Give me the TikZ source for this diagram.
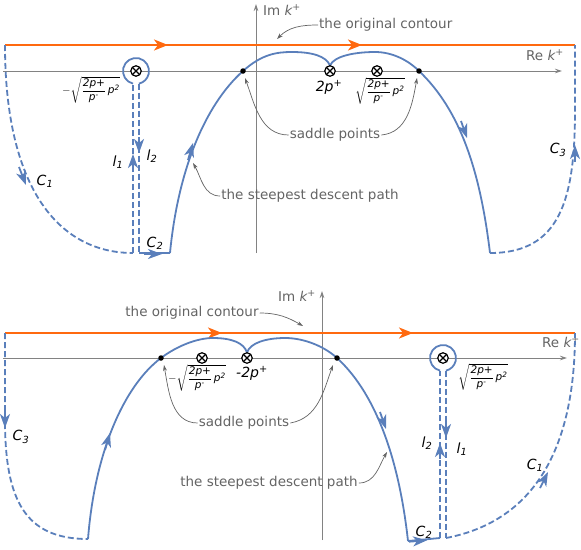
\documentclass[tikz,border=0pt]{standalone}
\usepackage{amsmath}
\usepackage{fontspec}
\setmainfont{DejaVu Sans}
\usetikzlibrary{arrows.meta}
\definecolor{cblue}{RGB}{90,127,187}
\definecolor{corange}{RGB}{255,105,15}
\definecolor{tgray}{RGB}{100,100,100}
\definecolor{agray}{RGB}{130,130,130}
\newcommand\sqbody{\sqrt{\dfrac{\text{\itshape 2p+}}{\text{\itshape p\textsuperscript{-}}}\,\text{\itshape p}^{\text{\itshape 2}}}}
\tikzset{
  blueline/.style={cblue, line width=1.8pt},
  bluedash/.style={blueline, dash pattern=on 6pt off 3pt},
  orline/.style={corange, line width=2.2pt},
  axisline/.style={agray, line width=0.8pt, -{Stealth[length=7pt,width=4.5pt]}},
  ann/.style={tgray, line width=0.7pt, -{Stealth[length=6pt,width=4pt]}},
  annot/.style={text=tgray, font=\fontsize{13.5}{16}\selectfont, inner sep=1pt},
  lbl/.style={font=\fontsize{14}{16}\selectfont\itshape, inner sep=0pt},
  mlbl/.style={font=\fontsize{10.5}{12}\selectfont, inner sep=0pt},
  barr/.style={cblue, line width=1.8pt, -{Stealth[length=14pt,width=10pt,inset=4pt]}},
  oarr/.style={corange, line width=2.2pt, -{Stealth[length=14pt,width=11pt,inset=4pt]}},
  otim/.style={circle, draw=black, line width=1.2pt, fill=white, minimum size=10.5pt, inner sep=0pt,
    path picture={\draw[line width=1.1pt] (path picture bounding box.north west)--(path picture bounding box.south east)
      (path picture bounding box.north east)--(path picture bounding box.south west);}},
  sdot/.style={circle, fill=black, inner sep=0pt, minimum size=5.5pt}
}
\begin{document}
\begin{tikzpicture}[x=1pt,y=-1pt]
\useasboundingbox (0,0) rectangle (581,549);
% ================= TOP PANEL =================
\draw[axisline] (3,71) -- (562,71);
\draw[axisline] (256,253) -- (256,4);
\node[annot, anchor=west] (imT) at (262,10) {Im {\itshape k}\textsuperscript{+}};
\node[annot] (reT) at (545,55) {Re {\itshape k}\textsuperscript{+}};
% original contour
\draw[orline] (5,45) -- (575,45);
\draw[oarr] (152,45) -- (168,45);
\draw[oarr] (346,45) -- (362,45);
% C1
\draw[bluedash] (5,45) .. controls (5,190) and (60,253) .. (133,253);
% keyhole
\draw[bluedash] (133,253) -- (133,83.65);
\draw[blueline] (133,83.65) arc[start angle=256.7, end angle=-76.7, radius=13pt];
\draw[bluedash] (139,83.65) -- (139,253);
% C2
\draw[blueline] (139,253) -- (170,253);
% steepest descent path
\draw[blueline] (170,253) .. controls (178,170) and (205,105) .. (243,71)
  .. controls (262,54) and (277,52) .. (292,52)
  .. controls (312,52) and (326,56) .. (330,65.5)
  .. controls (334,56) and (355,52) .. (375,52)
  .. controls (392,52) and (408,60) .. (419,71)
  .. controls (460,110) and (480,170) .. (490,253);
% C3
\draw[bluedash] (490,253) .. controls (560,253) and (575,200) .. (575,110) -- (575,45);
% arrows on blue paths
\draw[barr] (19,167) -- (26,185);
\draw[barr] (133,170) -- (133,154);
\draw[barr] (139,137) -- (139,153);
\draw[barr] (144,254) -- (162,254);
\draw[barr] (188,160) -- (193,143);
\draw[barr] (461,121) -- (467,138);
\draw[barr] (575,162) -- (575,145);
% points
\node[otim] (poleT) at (136,71) {};
\node[otim] (cuspT) at (330,71) {};
\node[otim] (sqpT) at (377,71) {};
\node[sdot] (s1T) at (243,71) {};
\node[sdot] (s2T) at (419,71) {};
% labels
\node[lbl] (c1T) at (45,181) {C\textsubscript{1}};
\node[lbl] (l1T) at (118,162) {l\textsubscript{1}};
\node[lbl] (l2T) at (152,156) {l\textsubscript{2}};
\node[lbl] (c2T) at (155,243) {C\textsubscript{2}};
\node[lbl] (c3T) at (558,150) {C\textsubscript{3}};
\node[lbl] (tpT) at (329,87) {2p\textsuperscript{+}};
\node[mlbl] (msqT) at (91,90) {$-\sqbody$};
\node[mlbl] (psqT) at (380,91) {$\sqbody$};
% annotations
\node[annot, anchor=west] (origT) at (318,25) {the original contour};
\draw[ann] (origT.west) to[out=180, in=45] (277,39);
\node[annot] (sadT) at (335,135) {saddle points};
\draw[ann] (sadT.west) to[out=180, in=-70] (245,78);
\draw[ann] (sadT.east) to[out=5, in=-100] (417,78);
\node[annot] (sdT) at (310,196) {the steepest descent path};
\draw[ann] (sdT.west) to[out=180, in=-60] (193,163);
% ================= BOTTOM PANEL =================
\draw[axisline] (3,358) -- (567,358);
\draw[axisline] (322,540) -- (322,291);
\node[annot] (imB) at (297,296) {Im {\itshape k}\textsuperscript{+}};
\node[annot] (reB) at (561,342) {Re {\itshape k}\textsuperscript{+}};
% original contour
\draw[orline] (5,333) -- (575,333);
\draw[oarr] (206,333) -- (222,333);
\draw[oarr] (397,333) -- (413,333);
% C3
\draw[bluedash] (5,333) -- (5,420) .. controls (5,500) and (25,539) .. (88,539);
% steepest descent path
\draw[blueline] (88,539) .. controls (95,450) and (125,385) .. (161,358)
  .. controls (177,346) and (197,338) .. (213,338)
  .. controls (232,338) and (244,343) .. (247,352.5)
  .. controls (250,343) and (266,338) .. (285,338)
  .. controls (305,338) and (325,347) .. (337,358)
  .. controls (372,390) and (398,450) .. (408,541);
% C2
\draw[blueline] (408,541) -- (440,538);
% keyhole
\draw[bluedash] (440,538) -- (440,370.65);
\draw[blueline] (440,370.65) arc[start angle=256.7, end angle=-76.7, radius=13pt];
\draw[bluedash] (446,370.65) -- (446,538);
% C1
\draw[bluedash] (446,538) .. controls (540,520) and (575,440) .. (575,333);
% arrows on blue paths
\draw[barr] (5,411) -- (5,428);
\draw[barr] (105,450) -- (110,433);
\draw[barr] (380,412) -- (386,429);
\draw[barr] (409,541.7) -- (427,540.3);
\draw[barr] (440,459) -- (440,443);
\draw[barr] (446,422) -- (446,438);
\draw[barr] (540,488) -- (548,472);
% points
\node[otim] (sqmB) at (202,358) {};
\node[otim] (cuspB) at (247,358) {};
\node[otim] (poleB) at (443,358) {};
\node[sdot] (s1B) at (161,358) {};
\node[sdot] (s2B) at (337,358) {};
% labels
\node[lbl] (c3B) at (21,437) {C\textsubscript{3}};
\node[lbl] (c2B) at (424,532) {C\textsubscript{2}};
\node[lbl] (l2B) at (427,443) {l\textsubscript{2}};
\node[lbl] (l1B) at (462,449) {l\textsubscript{1}};
\node[lbl] (c1B) at (535,465) {C\textsubscript{1}};
\node[lbl] (tpB) at (252,373) {-2p\textsuperscript{+}};
\node[mlbl] (msqB) at (197,378) {$-\sqbody$};
\node[mlbl] (psqB) at (483,377) {$\sqbody$};
% annotations
\node[annot] (origB) at (192,313) {the original contour};
\draw[ann] (origB.east) to[out=0, in=150] (303,326);
\node[annot] (sadB) at (244,423) {saddle points};
\draw[ann] (sadB.west) to[out=180, in=-80] (164,365);
\draw[ann] (sadB.east) to[out=10, in=-110] (333,365);
\node[annot] (sdB) at (269,483) {the steepest descent path};
\draw[ann] (sdB.east) to[out=0, in=-120] (387,452);
\end{tikzpicture}
\end{document}
